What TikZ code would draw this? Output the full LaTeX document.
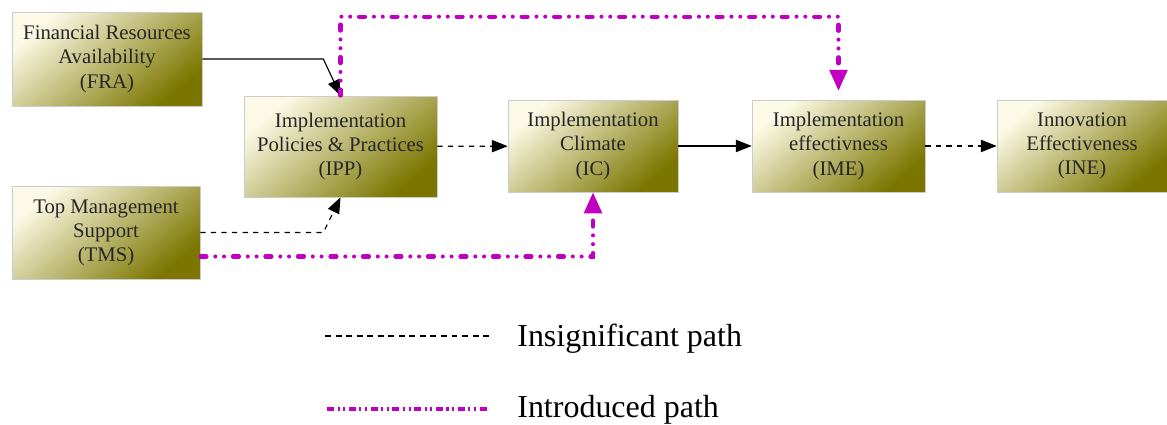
\documentclass[tikz,border=0pt]{standalone}
\usepackage{fontspec}
\setmainfont{Liberation Serif}
\usetikzlibrary{arrows.meta}
\definecolor{khakiL}{RGB}{252,250,230}
\definecolor{khakiD}{RGB}{124,118,0}
\definecolor{intro}{HTML}{C000C0}

\begin{document}
\begin{tikzpicture}[x=0.02cm,y=-0.02cm,font=\fontsize{11.8}{13.7}\selectfont,
 construct/.style={draw=black!20,line width=.4pt,top color=khakiL,bottom color=khakiD,shading angle=40,align=center,inner sep=0pt,text=black!85},
 sig/.style={-{Triangle[length=9pt,width=7pt]},line width=.65pt,draw=black},
 insig/.style={sig,dash pattern=on 3pt off 3pt},
 introduced/.style={-{Triangle[length=12pt,width=10pt]},intro,line width=2.3pt,line cap=round,dash pattern=on 3.5pt off 5pt on 0pt off 5pt on 0pt off 5pt},
 key/.style={anchor=west,inner sep=0pt,font=\fontsize{18.2}{20}\selectfont}]
\path[use as bounding box] (0,0) rectangle (1167,425);

% constructs
\node[construct,minimum width=3.8cm,minimum height=1.88cm] (fra) at (107,59) {Financial Resources\\Availability\\(FRA)};
\node[construct,minimum width=3.86cm,minimum height=2.02cm] (ipp) at (340.5,146.5) {Implementation\\Policies \& Practices\\(IPP)};
\node[construct,minimum width=3.76cm,minimum height=1.86cm] (tms) at (106,232.5) {Top Management\\Support\\(TMS)};
\node[construct,minimum width=3.4cm,minimum height=1.84cm] (ic) at (593,146) {Implementation\\Climate\\(IC)};
\node[construct,minimum width=3.46cm,minimum height=1.84cm] (ime) at (838.5,146) {Implementation\\effectivness\\(IME)};
\node[construct,minimum width=3.4cm,minimum height=1.84cm] (ine) at (1082,146) {Innovation\\Effectiveness\\(INE)};

% paths of the model
\draw[sig] (fra.east) -- ++(121,0) -- (ipp.north);
\draw[insig] (tms.east) -- ++(123,0) -- (ipp.south);
\draw[insig] (ipp) -- (ic);
\draw[sig] (ic) -- (ime);
\draw[insig] (ime) -- (ine);

% introduced paths
\coordinate (tmsOut) at ([yshift=-0.48cm]tms.east);
\draw[introduced] (tmsOut) -| (ic.south);
\draw[introduced,shorten >=5pt] (ipp.north) -- ++(0,-79) -| (ime.north);

% key
\coordinate (keyA) at (325,336);
\coordinate (keyB) at (492,336);
\coordinate (keyC) at (327,409);
\coordinate (keyD) at (490,409);
\draw[black,line width=.65pt,dash pattern=on 3.4pt off 2.6pt] (keyA) -- (keyB);
\draw[intro,line width=2.8pt,dash pattern=on 4pt off 2pt on 1.2pt off 2pt on 1.2pt off 2pt] (keyC) -- (keyD);
\node[key] (keyInsig) at (517,339) {Insignificant path};
\node[key] (keyIntro) at (517,410) {Introduced path};
\end{tikzpicture}
\end{document}
